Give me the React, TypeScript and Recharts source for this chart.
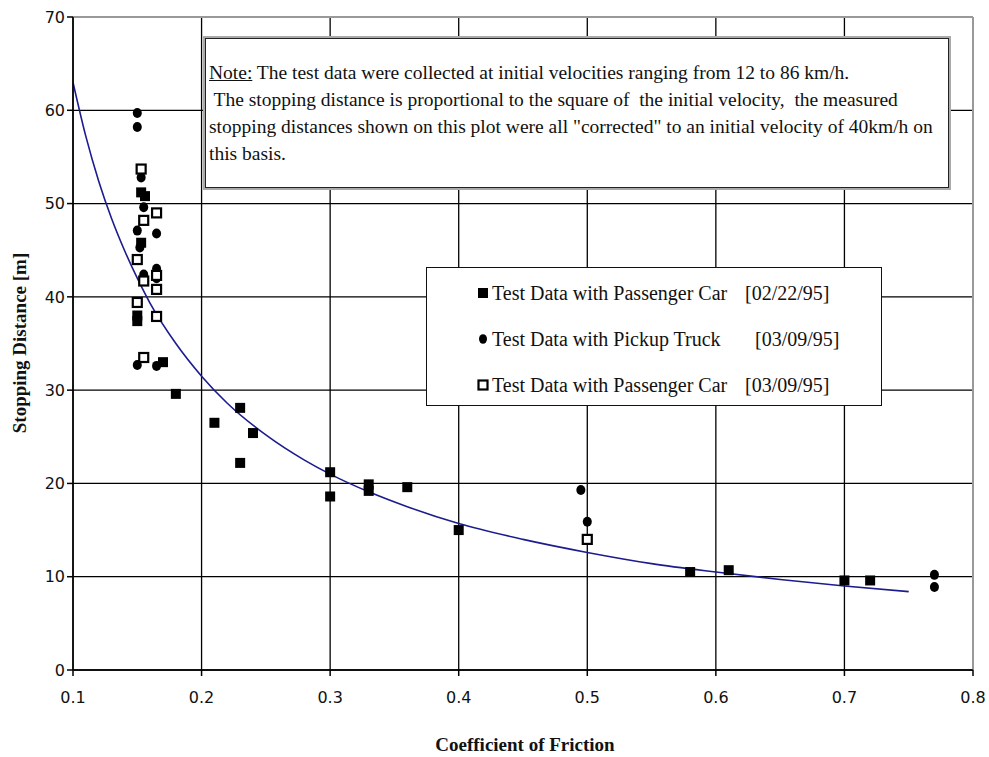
import React from 'react';
import {
  ComposedChart,
  Line,
  Scatter,
  XAxis,
  YAxis,
  CartesianGrid,
  ReferenceLine,
  Label
} from 'recharts';

// x ticks / y ticks
const frictionTicks = [0.1, 0.2, 0.3, 0.4, 0.5, 0.6, 0.7, 0.8];
const distanceTicks = [0, 10, 20, 30, 40, 50, 60, 70];

// fitted curve
const curveFriction = [0.1, 0.11, 0.12, 0.13, 0.14, 0.15, 0.16, 0.18, 0.2, 0.22, 0.25, 0.28, 0.3, 0.33, 0.36, 0.4, 0.45, 0.5, 0.55, 0.6, 0.65, 0.7, 0.75];
const curveDistance = [63.0, 57.2, 52.4, 48.4, 45.0, 42.0, 39.3, 35.0, 31.5, 28.6, 25.2, 22.5, 21.0, 19.1, 17.5, 15.7, 14.0, 12.6, 11.4, 10.5, 9.7, 9.0, 8.4];

// passenger car 02/22/95 (filled squares)
const carFebFriction = [0.153, 0.156, 0.153, 0.15, 0.15, 0.17, 0.18, 0.21, 0.23, 0.23, 0.24, 0.3, 0.3, 0.33, 0.33, 0.36, 0.4, 0.58, 0.61, 0.7, 0.72];
const carFebDistance = [51.2, 50.8, 45.8, 38.0, 37.4, 33.0, 29.6, 26.5, 28.1, 22.2, 25.4, 21.2, 18.6, 19.9, 19.2, 19.6, 15.0, 10.5, 10.7, 9.6, 9.6];

// pickup truck 03/09/95 (circles)
const truckFriction = [0.15, 0.15, 0.153, 0.155, 0.15, 0.165, 0.152, 0.165, 0.155, 0.165, 0.15, 0.165, 0.495, 0.5, 0.77, 0.77];
const truckDistance = [59.7, 58.2, 52.8, 49.6, 47.1, 46.8, 45.3, 43.0, 42.4, 42.0, 32.7, 32.6, 19.3, 15.9, 10.2, 8.9];

// passenger car 03/09/95 (open squares)
const carMarFriction = [0.153, 0.165, 0.155, 0.15, 0.165, 0.155, 0.165, 0.15, 0.165, 0.155, 0.5];
const carMarDistance = [53.7, 49.0, 48.2, 44.0, 42.3, 41.7, 40.8, 39.4, 37.9, 33.5, 14.0];

const zip = (xs: number[], ys: number[]) => xs.map((f, i) => ({ f, d: ys[i] }));

const curveData = zip(curveFriction, curveDistance);
const carFebData = zip(carFebFriction, carFebDistance);
const truckData = zip(truckFriction, truckDistance);
const carMarData = zip(carMarFriction, carMarDistance);

const FilledSquare = (props: any) => (
  <rect x={props.cx - 5} y={props.cy - 5} width={10} height={10} fill="#000" />
);
const Dot = (props: any) => (
  <ellipse cx={props.cx} cy={props.cy} rx={4.5} ry={5} fill="#000" />
);
const OpenSquare = (props: any) => (
  <rect x={props.cx - 4.5} y={props.cy - 4.5} width={9} height={9} fill="#fff" stroke="#000" strokeWidth={2.2} />
);

const tickStyle = { fontFamily: 'DejaVu Sans', fontSize: 16, fill: '#111' };
const serif = '"Liberation Serif", "Times New Roman", serif';

export default function App() {
  return (
    <div style={{ position: 'absolute', left: 0, top: 0, width: 989, height: 757, background: '#fff', fontFamily: serif }}>
      <ComposedChart width={989} height={757} margin={{ top: 17, right: 16, left: 13, bottom: 2 }}>
        <CartesianGrid stroke="#000" strokeWidth={1.3} />
        <XAxis
          type="number"
          dataKey="f"
          domain={[0.1, 0.8]}
          ticks={frictionTicks}
          tickFormatter={(v) => v.toFixed(1)}
          height={85}
          stroke="#000"
          strokeWidth={1.5}
          tickSize={6}
          tickMargin={16}
          tick={tickStyle}
          allowDataOverflow
        >
          <Label
            content={() => (
              <text x={525} y={751} textAnchor="middle" fontFamily={serif} fontWeight="bold" fontSize={19} fill="#111">
                Coefficient of Friction
              </text>
            )}
          />
        </XAxis>
        <YAxis
          type="number"
          dataKey="d"
          domain={[0, 70]}
          ticks={distanceTicks}
          width={60}
          stroke="#000"
          strokeWidth={1.5}
          tickSize={6}
          tick={tickStyle}
        >
          <Label
            content={() => (
              <text x={22} y={343} transform="rotate(-90 22 343)" textAnchor="middle" dominantBaseline="middle" fontFamily={serif} fontWeight="bold" fontSize={19} fill="#111">
                Stopping Distance [m]
              </text>
            )}
          />
        </YAxis>
        <ReferenceLine y={70} stroke="#999" strokeWidth={2} />
        <ReferenceLine x={0.8} stroke="#999" strokeWidth={2} />
        <Line
          data={curveData}
          dataKey="d"
          type="monotone"
          stroke="#1c1c8f"
          strokeWidth={1.6}
          dot={false}
          isAnimationActive={false}
        />
        <Scatter data={carFebData} dataKey="d" shape={FilledSquare} isAnimationActive={false} />
        <Scatter data={truckData} dataKey="d" shape={Dot} isAnimationActive={false} />
        <Scatter data={carMarData} dataKey="d" shape={OpenSquare} isAnimationActive={false} />
      </ComposedChart>

      {/* note box */}
      <div
        style={{
          position: 'absolute',
          left: 205,
          top: 38,
          width: 744,
          height: 150,
          boxSizing: 'border-box',
          background: '#fff',
          border: '1px solid #222',
          boxShadow: '0 0 0 2px #aaa',
          padding: '20px 3px 0 3px',
          fontSize: 19.5,
          lineHeight: '27px',
          color: '#111',
          whiteSpace: 'pre'
        }}
      >
        <div><span style={{ textDecoration: 'underline' }}>Note:</span> The test data were collected at initial velocities ranging from 12 to 86 km/h.</div>
        <div> The stopping distance is proportional to the square of  the initial velocity,  the measured</div>
        <div>stopping distances shown on this plot were all "corrected" to an initial velocity of 40km/h on</div>
        <div>this basis.</div>
      </div>

      {/* legend box */}
      <div
        style={{
          position: 'absolute',
          left: 426,
          top: 267,
          width: 456,
          height: 139,
          boxSizing: 'border-box',
          background: '#fff',
          border: '1.5px solid #111',
          fontSize: 20,
          color: '#111'
        }}
      >
        {[
          { name: 'Test Data with Passenger Car', date: '[02/22/95]', dateLeft: 318, mark: 'fill' },
          { name: 'Test Data with Pickup Truck', date: '[03/09/95]', dateLeft: 328, mark: 'dot' },
          { name: 'Test Data with Passenger Car', date: '[03/09/95]', dateLeft: 318, mark: 'open' }
        ].map((row, i) => (
          <div key={i} style={{ position: 'absolute', left: 0, top: 13 + i * 46, height: 24, width: '100%' }}>
            <svg width={12} height={12} style={{ position: 'absolute', left: 50, top: 6 }}>
              {row.mark === 'fill' && <rect x={1} y={1} width={10} height={10} fill="#000" />}
              {row.mark === 'dot' && <ellipse cx={6} cy={6} rx={4} ry={4.8} fill="#000" />}
              {row.mark === 'open' && <rect x={1.5} y={1.5} width={9} height={9} fill="#fff" stroke="#000" strokeWidth={2.2} />}
            </svg>
            <span style={{ position: 'absolute', left: 65, top: 0, lineHeight: '24px' }}>{row.name}</span>
            <span style={{ position: 'absolute', left: row.dateLeft, top: 0, lineHeight: '24px' }}>{row.date}</span>
          </div>
        ))}
      </div>
    </div>
  );
}
